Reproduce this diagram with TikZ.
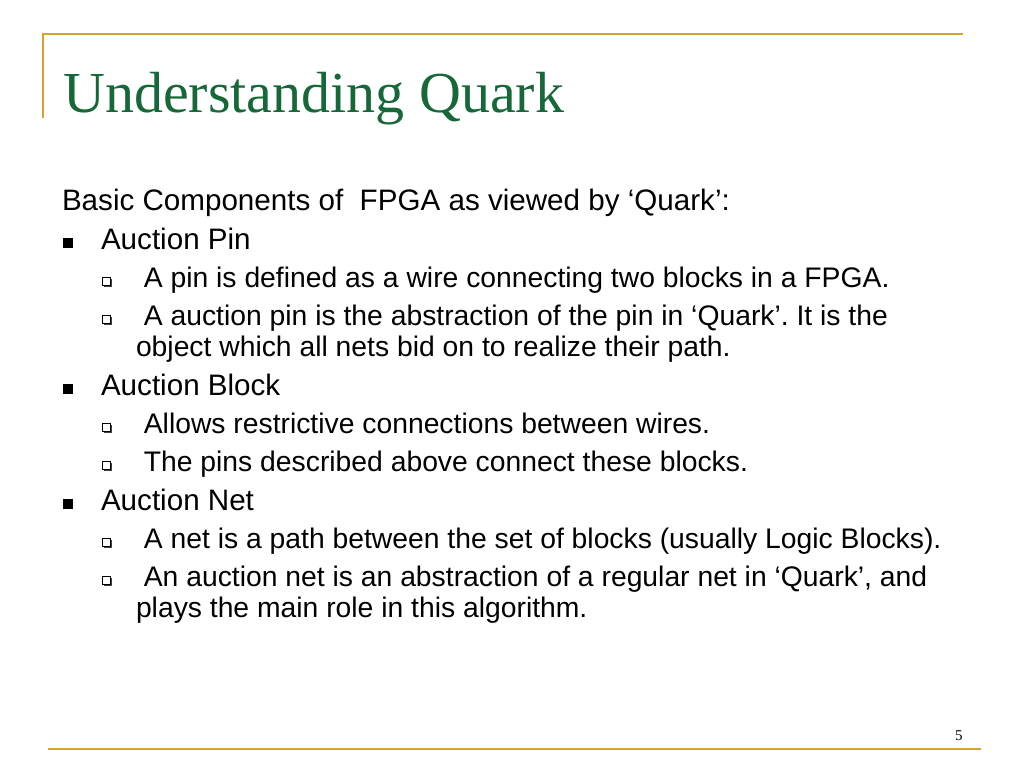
\documentclass[tikz,border=0pt]{standalone}
\usepackage{fontspec}
\setmainfont{Liberation Sans}
\newfontfamily\seriffam{Liberation Serif}
\usetikzlibrary{shadows}
\frenchspacing
\definecolor{gold}{RGB}{212,164,44}
\definecolor{titlegreen}{RGB}{22,104,56}
\begin{document}
\begin{tikzpicture}[x=1pt,y=-1pt,
  txt/.style={anchor=base west, inner sep=0, outer sep=0, font=\fontsize{28.3}{34}\selectfont},
  hdr/.style={anchor=base west, inner sep=0, outer sep=0, font=\fontsize{29.6}{35}\selectfont},
  bfill/.style={fill=black, draw=none, minimum size=10pt, inner sep=0, outer sep=0},
  bhollow/.style={fill=white, draw=black, line width=0.9pt, minimum size=8pt, inner sep=0, outer sep=0,
     drop shadow={shadow xshift=1.6pt, shadow yshift=-1.6pt, fill=black!75, opacity=1}},
  rule/.style={draw=gold, line width=2.8pt}]
\useasboundingbox (0,0) rectangle (1024,768);
\fill[white] (0,0) rectangle (1024,768);
% frame lines
\coordinate (tl) at (42,34);
\coordinate (tr) at (963,34);
\coordinate (lb) at (43,118);
\coordinate (bl) at (48,749);
\coordinate (br) at (981,749);
\draw[rule] (tl) -- (tr);
\draw[rule] ([xshift=1pt]tl) -- (lb);
\draw[rule] (bl) -- (br);
% title
\node[anchor=base west, inner sep=0, text=titlegreen, font=\seriffam\fontsize{58}{60}\selectfont] (title) at (63,112) {Understanding Quark};
% body
\node[hdr] (basic) at (62,210) {Basic Components of\ \ FPGA as viewed by ‘Quark’:};

\node[bfill] (b1) at (68,243) {};
\node[hdr] (pin) at (101,249) {Auction Pin};
\node[bhollow] (s1) at (106.5,281.5) {};
\node[txt] (pin1) at (136,287) {\ A pin is defined as a wire connecting two blocks in a FPGA.};
\node[bhollow] (s2) at (106.5,319.5) {};
\node[txt] (pin2) at (136,325) {\ A auction pin is the abstraction of the pin in ‘Quark’. It is the};
\node[txt] (pin2b) at (136,356) {object which all nets bid on to realize their path.};

\node[bfill] (b2) at (68,389) {};
\node[hdr] (block) at (101,395) {Auction Block};
\node[bhollow] (s3) at (106.5,427.5) {};
\node[txt] (blk1) at (136,433) {\ Allows restrictive connections between wires.};
\node[bhollow] (s4) at (106.5,465.5) {};
\node[txt] (blk2) at (136,471) {\ The pins described above connect these blocks.};

\node[bfill] (b3) at (68,504) {};
\node[hdr] (net) at (101,510) {Auction Net};
\node[bhollow] (s5) at (106.5,542.5) {};
\node[txt] (net1) at (136,548) {\ A net is a path between the set of blocks (usually Logic Blocks).};
\node[bhollow] (s6) at (106.5,580.5) {};
\node[txt] (net2) at (136,586) {\ An auction net is an abstraction of a regular net in ‘Quark’, and};
\node[txt] (net2b) at (136,617) {plays the main role in this algorithm.};

% page number
\node[anchor=base west, inner sep=0, font=\seriffam\fontsize{15}{17}\selectfont] (pg) at (955,740) {5};
\end{tikzpicture}
\end{document}
